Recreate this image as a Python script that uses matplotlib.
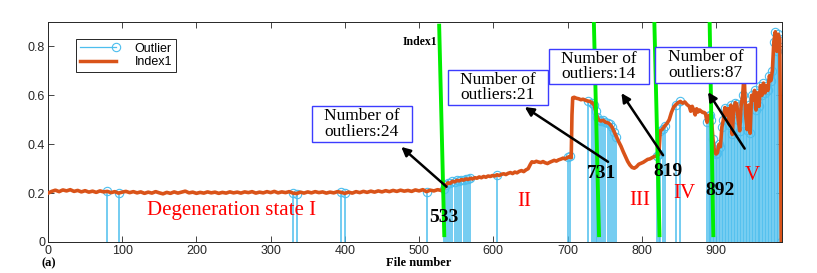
import numpy as np
import matplotlib
matplotlib.use("Agg")
import matplotlib.pyplot as plt
from matplotlib.legend_handler import HandlerLine2D
from matplotlib.lines import Line2D
from matplotlib.patches import Rectangle

# Index1, state I (file 0..530, every 5 files)
seg1_files = list(range(0, 531, 5))
seg1_vals = [
    0.200, 0.207, 0.212, 0.206, 0.213, 0.209, 0.214, 0.207, 0.211, 0.205,
    0.210, 0.204, 0.208, 0.203, 0.209, 0.205, 0.207, 0.202, 0.206, 0.200,
    0.204, 0.207, 0.202, 0.206, 0.201, 0.205, 0.199, 0.204, 0.200, 0.206,
    0.201, 0.197, 0.203, 0.199, 0.205, 0.200, 0.204, 0.208, 0.201, 0.204,
    0.199, 0.203, 0.200, 0.205, 0.201, 0.204, 0.199, 0.203, 0.200, 0.205,
    0.201, 0.204, 0.200, 0.205, 0.202, 0.206, 0.200, 0.204, 0.201, 0.206,
    0.202, 0.207, 0.201, 0.205, 0.202, 0.206, 0.200, 0.198, 0.204, 0.200,
    0.205, 0.201, 0.206, 0.202, 0.205, 0.200, 0.204, 0.201, 0.206, 0.203,
    0.199, 0.204, 0.200, 0.206, 0.202, 0.207, 0.203, 0.208, 0.204, 0.209,
    0.205, 0.210, 0.206, 0.211, 0.207, 0.212, 0.208, 0.211, 0.207, 0.213,
    0.209, 0.214, 0.206, 0.212, 0.209, 0.214, 0.211,
]

# Index1, states II..V
seg2_files = [
    533, 536, 539, 542, 545, 548, 551, 554, 557, 560, 563, 566, 569, 572, 575, 578,
    581, 584, 587, 590, 593, 596, 599, 602, 605, 608, 611, 614, 617, 620, 623, 626,
    629, 632, 635, 638, 641, 644, 647, 650, 652, 655, 658, 661, 664, 667, 670, 673,
    676, 679, 682, 685, 688, 691, 694, 697, 700, 703, 705, 706, 707, 709, 712, 715,
    718, 721, 724, 727, 730, 733, 736, 738, 740, 742, 745, 748, 751, 754, 757, 760,
    763, 766, 769, 772, 775, 778, 781, 784, 787, 790, 793, 796, 799, 802, 805, 808,
    811, 814, 817, 820, 823, 825, 828, 831, 834, 837, 840, 843, 846, 849, 852, 855,
    858, 861, 864, 866, 868, 870, 872, 874, 876, 878, 880, 882, 884, 886, 888, 890,
    892, 894, 896, 898, 900, 902, 904, 906, 908, 910, 912, 914, 916, 918, 920, 922,
    924, 926, 928, 930, 932, 934, 936, 938, 940, 942, 944, 946, 948, 950, 952, 954,
    956, 958, 960, 962, 964, 966, 968, 970, 972, 974, 976, 978, 980, 982, 984, 986,
    987, 988,
]
seg2_vals = [
    0.218, 0.232, 0.242, 0.240, 0.248, 0.246, 0.252, 0.250, 0.255, 0.253, 0.258, 0.256, 0.260, 0.258, 0.263, 0.261,
    0.266, 0.263, 0.268, 0.265, 0.270, 0.268, 0.272, 0.270, 0.275, 0.272, 0.277, 0.279, 0.276, 0.281, 0.284, 0.280,
    0.286, 0.283, 0.289, 0.292, 0.288, 0.295, 0.300, 0.318, 0.328, 0.326, 0.330, 0.327, 0.325, 0.329, 0.324, 0.321,
    0.326, 0.330, 0.334, 0.331, 0.336, 0.339, 0.343, 0.340, 0.346, 0.350, 0.345, 0.520, 0.590, 0.592, 0.588, 0.586,
    0.582, 0.584, 0.580, 0.577, 0.575, 0.570, 0.560, 0.535, 0.512, 0.500, 0.495, 0.498, 0.490, 0.488, 0.482, 0.470,
    0.450, 0.430, 0.410, 0.392, 0.370, 0.350, 0.330, 0.315, 0.305, 0.302, 0.308, 0.318, 0.322, 0.326, 0.332, 0.338,
    0.340, 0.345, 0.350, 0.352, 0.358, 0.455, 0.462, 0.475, 0.485, 0.500, 0.530, 0.552, 0.562, 0.570, 0.575, 0.568,
    0.573, 0.562, 0.555, 0.535, 0.555, 0.540, 0.520, 0.545, 0.532, 0.540, 0.535, 0.530, 0.530, 0.525, 0.490, 0.515,
    0.520, 0.500, 0.420, 0.370, 0.360, 0.365, 0.400, 0.390, 0.470, 0.500, 0.550, 0.520, 0.545, 0.480, 0.560, 0.440,
    0.540, 0.570, 0.565, 0.500, 0.455, 0.560, 0.600, 0.690, 0.520, 0.460, 0.560, 0.445, 0.600, 0.580, 0.620, 0.540,
    0.610, 0.555, 0.640, 0.600, 0.650, 0.610, 0.640, 0.620, 0.680, 0.660, 0.700, 0.820, 0.860, 0.780, 0.850, 0.830,
    0.400, 0.000,
]

# files flagged as outliers (stems drawn at the Index1 value)
outlier_files = [80, 95, 330, 335, 395, 400, 510,
                 533, 536, 539, 542, 545, 548, 551, 554, 557, 560, 563, 566, 569, 605,
                 700, 703, 727, 733, 736, 738, 740, 742, 745, 748, 751, 754, 757, 760, 763, 766,
                 820, 823, 825, 828, 831, 846, 852, 888, 890] + list(range(892, 987, 2)) + [988]

# change points (green lines), top / bottom file positions
cp_top = [527, 735.5, 817, 891.5]
cp_bottom = [534, 742.5, 824, 896.5]
cp_labels = ["533", "731", "819", "892"]

states = ["Degeneration state I", "II", "III", "IV", "V"]
outlier_counts = [24, 21, 14, 87]

files = np.array(seg1_files + seg2_files)
index1 = np.array(seg1_vals + seg2_vals)
lookup = dict(zip(files.tolist(), index1.tolist()))
out_x = np.array(outlier_files)
out_y = np.array([lookup[f] for f in outlier_files])

blue = "#4DBEEE"
orange = "#D95319"
serif = ["Liberation Serif", "DejaVu Serif"]
sans = ["Liberation Sans", "DejaVu Sans"]

fig = plt.figure(figsize=(8.17, 2.73), dpi=100)
ax = fig.add_axes([48 / 817, 31 / 273, 734 / 817, 220 / 273])

ax.vlines(out_x, 0, out_y, color=blue, lw=1.1, zorder=2)
ax.plot(out_x, out_y, "o", ms=6, mfc="none", mec=blue, mew=0.8, zorder=2)
ax.plot(files, index1, color=orange, lw=2.6, zorder=3)

for xt, xb in zip(cp_top, cp_bottom):
    top = 0.893 if xt < 600 else 0.9
    ax.plot([xt, xb], [top, 0.02], color="#00EE00", lw=2.8, zorder=4, solid_capstyle="butt")

ax.text(501, 0.82, "Index1", family=serif, fontweight="bold", fontsize=8.5, ha="center", va="center")

label_pos = [(533, 0.10), (746, 0.28), (836, 0.287), (906, 0.212)]
for lab, (lx, ly) in zip(cp_labels, label_pos):
    ax.text(lx, ly, lab, family=serif, fontweight="bold", fontsize=14, ha="center", va="center", zorder=6)

state_pos = [(248, 0.13), (642, 0.165), (797, 0.17), (857, 0.2), (949, 0.273)]
for s, (sx, sy) in zip(states, state_pos):
    ax.text(sx, sy, s, family=serif, color="red", fontsize=15, ha="center", va="center", zorder=6)

box_pos = [(423, 0.482), (606, 0.632), (742.5, 0.718), (886, 0.724)]
arrow_tail = [(537, 0.226), (754.6, 0.328), (828.7, 0.355), (938.7, 0.382)]
arrow_head = [(476, 0.389), (642.4, 0.552), (772.6, 0.609), (889.3, 0.613)]
for n, (bx, by), tail, head in zip(outlier_counts, box_pos, arrow_tail, arrow_head):
    ax.add_patch(Rectangle((bx - 67.5, by - 0.073), 135, 0.146, fc="white", ec="#3c3cff", lw=1, zorder=7))
    ax.text(bx, by, f"Number of\noutliers:{n}", family=serif, fontsize=12.5, ha="center", va="center",
            linespacing=0.95, zorder=8)
    ax.annotate("", xy=head, xytext=tail, zorder=7,
                arrowprops=dict(arrowstyle="-|>", color="black", lw=1.8, mutation_scale=13,
                                shrinkA=0, shrinkB=0))

ax.set_xlim(0, 989)
ax.set_ylim(0, 0.9)
ax.set_xticks(np.arange(0, 901, 100))
ax.set_yticks([0, 0.2, 0.4, 0.6, 0.8])
ax.set_yticklabels(["0", "0.2", "0.4", "0.6", "0.8"])
ax.tick_params(direction="in", top=True, right=True, length=4, width=0.6, labelsize=9, pad=2, colors="#262626")
for lab in ax.get_xticklabels() + ax.get_yticklabels():
    lab.set_family(sans)
for sp in ax.spines.values():
    sp.set_linewidth(0.7)
    sp.set_color("#262626")


class StemHandler(HandlerLine2D):
    def create_artists(self, *args, **kw):
        arts = super().create_artists(*args, **kw)
        for a in arts:
            a.set_markevery([2])
        return arts


h_out = Line2D([], [], color=blue, lw=0.9, marker="o", ms=6, mfc="none", mec=blue, mew=0.8)
h_idx = Line2D([], [], color=orange, lw=2.5)
leg = ax.legend([h_out, h_idx], ["Outlier", "Index1"], loc="upper left", bbox_to_anchor=(0.038, 0.923),
                borderaxespad=0, handler_map={h_out: StemHandler(numpoints=1)}, handlelength=2.9,
                fancybox=False, edgecolor="#262626", framealpha=1, borderpad=0.3, labelspacing=0.1,
                handletextpad=1.5, prop={"family": sans, "size": 9})
leg.get_frame().set_linewidth(0.7)
leg.set_zorder(8)

fig.text(419 / 817, 1 - 263 / 273, "File number", family=serif, fontweight="bold", fontsize=9, ha="center", va="center")
fig.text(42 / 817, 1 - 263 / 273, "(a)", family=serif, fontweight="bold", fontsize=9, ha="left", va="center")

fig.savefig("out.png", dpi=100)
